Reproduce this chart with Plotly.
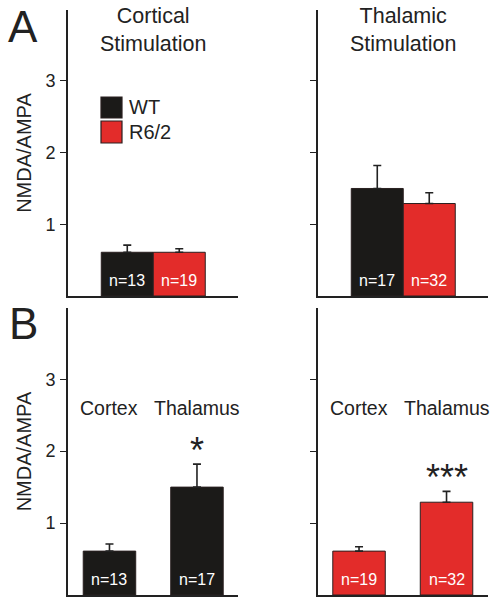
import plotly.graph_objects as go

# ---- data ----
genotypes = ["WT", "R6/2"]
regions = ["Cortex", "Thalamus"]
cortical_means = [0.61, 0.61]      # WT, R6/2 (cortical stimulation)
cortical_errs = [0.10, 0.05]
thalamic_means = [1.50, 1.29]      # WT, R6/2 (thalamic stimulation)
thalamic_errs = [0.32, 0.15]
cortical_n = ["n=13", "n=19"]
thalamic_n = ["n=17", "n=32"]
wt_means = [0.61, 1.50]            # Cortex, Thalamus
wt_errs = [0.10, 0.32]
wt_n = ["n=13", "n=17"]
r62_means = [0.61, 1.29]
r62_errs = [0.06, 0.15]
r62_n = ["n=19", "n=32"]
wt_sig = "*"
r62_sig = "***"
y_ticks = [1, 2, 3]

BLACK = "#1b1a18"
RED = "#e32c2a"
EDGE = "#2a2020"
FONT = "Liberation Sans, Arial, sans-serif"
AX = "#222222"

W, H = 498, 605
def px(x):
    return x / W
def py(y):
    return 1 - y / H

fig = go.Figure()

def bar(x, y, err, color, xa, ya, name=None):
    fig.add_trace(go.Bar(
        x=x, y=y, xaxis=xa, yaxis=ya, name=name, showlegend=False,
        marker=dict(color=color, line=dict(color=EDGE, width=1)),
        error_y=dict(type="data", symmetric=False, array=err,
                     arrayminus=[0] * len(err), color=AX, thickness=1.6, width=4),
        width=1.0 if len(x) == 1 else 0.6,
    ))

# Panel A: each genotype a trace
bar([genotypes[0]], [cortical_means[0]], [cortical_errs[0]], BLACK, "x", "y", "WT")
bar([genotypes[1]], [cortical_means[1]], [cortical_errs[1]], RED, "x", "y", "R6/2")
bar([genotypes[0]], [thalamic_means[0]], [thalamic_errs[0]], BLACK, "x2", "y2", "WT")
bar([genotypes[1]], [thalamic_means[1]], [thalamic_errs[1]], RED, "x2", "y2", "R6/2")
# Panel B
bar(regions, wt_means, wt_errs, BLACK, "x3", "y3", "WT")
bar(regions, r62_means, r62_errs, RED, "x4", "y4", "R6/2")

fig.update_layout(barmode="overlay")

xl = [px(68), px(238)]
xr = [px(318), px(488)]
ya_dom = [py(296), py(10)]
yb_dom = [py(595), py(308)]

xcommon = dict(type="category", showline=True, linecolor=AX, linewidth=1.6,
               showticklabels=False, ticks="", showgrid=False, zeroline=False,
               fixedrange=True)
ycommon = dict(range=[0, 3.99], showline=True, linecolor=AX, linewidth=1.6,
               tickvals=y_ticks, ticks="outside", ticklen=6, tickwidth=1.4,
               tickcolor=AX, showgrid=False, zeroline=False, ticklabelstandoff=1,
               tickfont=dict(family=FONT, size=18, color="#222"))
ytitle = dict(text="NMDA/AMPA", font=dict(family=FONT, size=20, color="#222"), standoff=9)

fig.update_layout(
    width=W, height=H, margin=dict(l=0, r=0, t=0, b=0),
    paper_bgcolor="white", plot_bgcolor="white", showlegend=False,
    xaxis=dict(xcommon, domain=xl, anchor="y", range=[-1.14, 2.13],
               categoryarray=genotypes),
    xaxis2=dict(xcommon, domain=xr, anchor="y2", range=[-1.14, 2.13],
                categoryarray=genotypes),
    xaxis3=dict(xcommon, domain=xl, anchor="y3", range=[-0.474, 1.469],
                categoryarray=regions),
    xaxis4=dict(xcommon, domain=xr, anchor="y4", range=[-0.469, 1.474],
                categoryarray=regions),
    yaxis=dict(ycommon, domain=ya_dom, anchor="x", title=ytitle),
    yaxis2=dict(ycommon, domain=ya_dom, anchor="x2", showticklabels=False),
    yaxis3=dict(ycommon, domain=yb_dom, anchor="x3", title=ytitle),
    yaxis4=dict(ycommon, domain=yb_dom, anchor="x4", showticklabels=False),
)

ann = []
def t(text, x, y, size, xref="paper", yref="paper", color="#222", xanchor="center",
      yanchor="middle", yshift=0, bold=False):
    ann.append(dict(text=("<b>%s</b>" % text) if bold else text, x=x, y=y,
                    xref=xref, yref=yref, showarrow=False, xanchor=xanchor,
                    yanchor=yanchor, yshift=yshift,
                    font=dict(family=FONT, size=size, color=color)))

t("A", px(23), py(26), 44)
t("B", px(23), py(323), 44)
t("Cortical<br>Stimulation", px(153), py(30), 21.5)
t("Thalamic<br>Stimulation", px(403), py(30), 21.5)

# n labels
for cat, n in zip(genotypes, cortical_n):
    t(n, cat, 0, 16, "x", "y", "white", yanchor="bottom", yshift=5)
for cat, n in zip(genotypes, thalamic_n):
    t(n, cat, 0, 16, "x2", "y2", "white", yanchor="bottom", yshift=5)
for cat, n in zip(regions, wt_n):
    t(n, cat, 0, 16, "x3", "y3", "white", yanchor="bottom", yshift=5)
for cat, n in zip(regions, r62_n):
    t(n, cat, 0, 16, "x4", "y4", "white", yanchor="bottom", yshift=5)

# region labels in B
for xa, ya in (("x3", "y3"), ("x4", "y4")):
    for cat in regions:
        t(cat, cat, 2.6, 19.5, xa, ya)

# significance stars
t(wt_sig, regions[1], wt_means[1] + wt_errs[1], 36, "x3", "y3", yanchor="bottom", yshift=-9)
t(r62_sig, regions[1], r62_means[1] + r62_errs[1], 36, "x4", "y4", yanchor="bottom", yshift=-9)

# legend (manual, large keys)
shapes = []
for (y0, y1), col, name in (((97, 118), BLACK, genotypes[0]), ((121, 143), RED, genotypes[1])):
    shapes.append(dict(type="rect", xref="paper", yref="paper", x0=px(101), x1=px(122),
                       y0=py(y1), y1=py(y0), fillcolor=col, line=dict(color=EDGE, width=1.2)))
    t(name, px(127), py((y0 + y1) / 2), 20, xanchor="left")

fig.update_layout(annotations=ann, shapes=shapes)
fig.write_html("out.html", config={"displayModeBar": False},
               post_script="document.body.style.margin='0';")
